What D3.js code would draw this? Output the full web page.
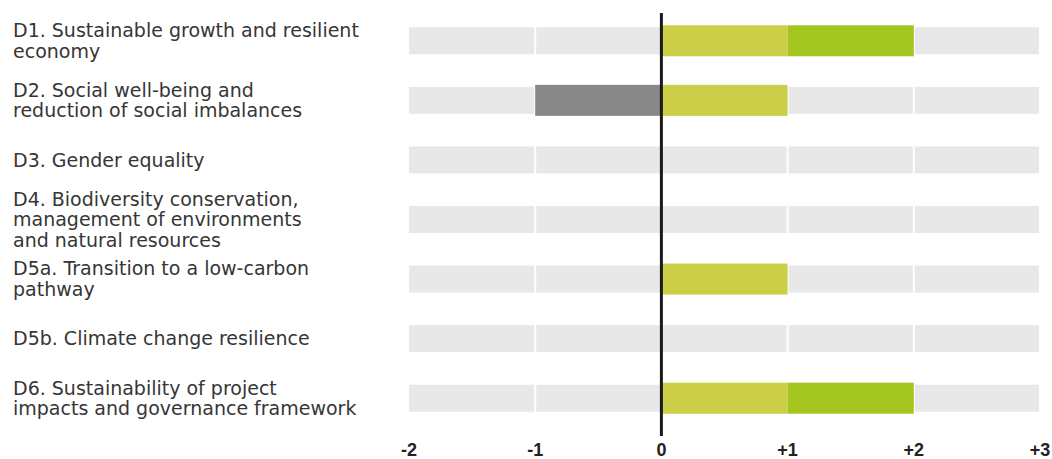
<!DOCTYPE html>
<html>
<head>
<meta charset="utf-8">
<script src="https://cdn.jsdelivr.net/npm/d3@7"></script>
<style>
  body { margin: 0; background: #fff; }
  svg { display: block; }
</style>
</head>
<body>
<svg width="1052" height="459"></svg>
<script>
// categories, one label line per array entry
let categories = [
    ['D1. Sustainable growth and resilient', 'economy'],
    ['D2. Social well-being and', 'reduction of social imbalances'],
    ['D3. Gender equality'],
    ['D4. Biodiversity conservation,', 'management of environments', 'and natural resources'],
    ['D5a. Transition to a low-carbon', 'pathway'],
    ['D5b. Climate change resilience'],
    ['D6. Sustainability of project', 'impacts and governance framework']
];
let negative = [0, -1, 0, 0, 0, 0, 0],
    firstStep = [1, 1, 0, 0, 1, 0, 1],
    secondStep = [1, 0, 0, 0, 0, 0, 1];
let ticks = [-2, -1, 0, 1, 2, 3],
    tickLabels = ['-2', '-1', '0', '+1', '+2', '+3'];

let svg = d3.select('svg');
let xScale = d3.scaleLinear().domain([-2, 3]).range([409, 1040]);
let yScale = d3.scaleBand()
    .domain(d3.range(categories.length))
    .range([11, 428])
    .paddingInner(0);

let rowH = 27, barH = 31;
let cy = i => yScale(i) + yScale.bandwidth() / 2;

// grey background segments, one per unit
let units = d3.range(-2, 3);
categories.forEach((c, i) => {
    svg.append('g').selectAll('rect')
        .data(units)
        .enter()
        .append('rect')
        .attr('x', u => xScale(u) + (u === -2 ? 0 : 1))
        .attr('y', cy(i) - rowH / 2)
        .attr('width', u => xScale(u + 1) - xScale(u) - (u === -2 ? 1 : 2))
        .attr('height', rowH)
        .attr('fill', '#e8e8e8');
});

let bars = svg.append('g');
negative.forEach((d, i) => {
    if (d < 0) {
        bars.append('rect')
            .attr('x', xScale(d))
            .attr('y', cy(i) - barH / 2)
            .attr('width', xScale(0) - xScale(d))
            .attr('height', barH)
            .attr('fill', '#878787');
    }
    if (firstStep[i] > 0) {
        bars.append('rect')
            .attr('x', xScale(0))
            .attr('y', cy(i) - barH / 2)
            .attr('width', xScale(firstStep[i]) - xScale(0))
            .attr('height', barH)
            .attr('fill', '#cbcf47');
    }
    if (secondStep[i] > 0) {
        bars.append('rect')
            .attr('x', xScale(firstStep[i]))
            .attr('y', cy(i) - barH / 2)
            .attr('width', xScale(firstStep[i] + secondStep[i]) - xScale(firstStep[i]))
            .attr('height', barH)
            .attr('fill', '#a5c51f');
    }
});

// zero line
svg.append('line')
    .attr('x1', xScale(0)).attr('x2', xScale(0))
    .attr('y1', 13).attr('y2', 436)
    .attr('stroke', '#1a1a1a')
    .attr('stroke-width', 3);

// category labels
let lineH = 20.5;
categories.forEach((lines, i) => {
    let top = cy(i) - (lines.length - 1) * lineH / 2;
    let t = svg.append('text')
        .attr('font-family', 'DejaVu Sans, sans-serif')
        .attr('font-size', 19)
        .attr('fill', '#363636');
    lines.forEach((l, j) => {
        t.append('tspan')
            .attr('x', 13)
            .attr('y', top + j * lineH)
            .attr('dy', '0.35em')
            .text(l);
    });
});

// x axis labels
svg.append('g').selectAll('text')
    .data(ticks)
    .enter()
    .append('text')
    .attr('x', d => xScale(d))
    .attr('y', 456)
    .attr('text-anchor', 'middle')
    .attr('font-family', 'Liberation Sans, Arial, sans-serif')
    .attr('font-weight', 'bold')
    .attr('font-size', 18)
    .attr('fill', '#222')
    .text((d, i) => tickLabels[i]);
</script>
</body>
</html>
